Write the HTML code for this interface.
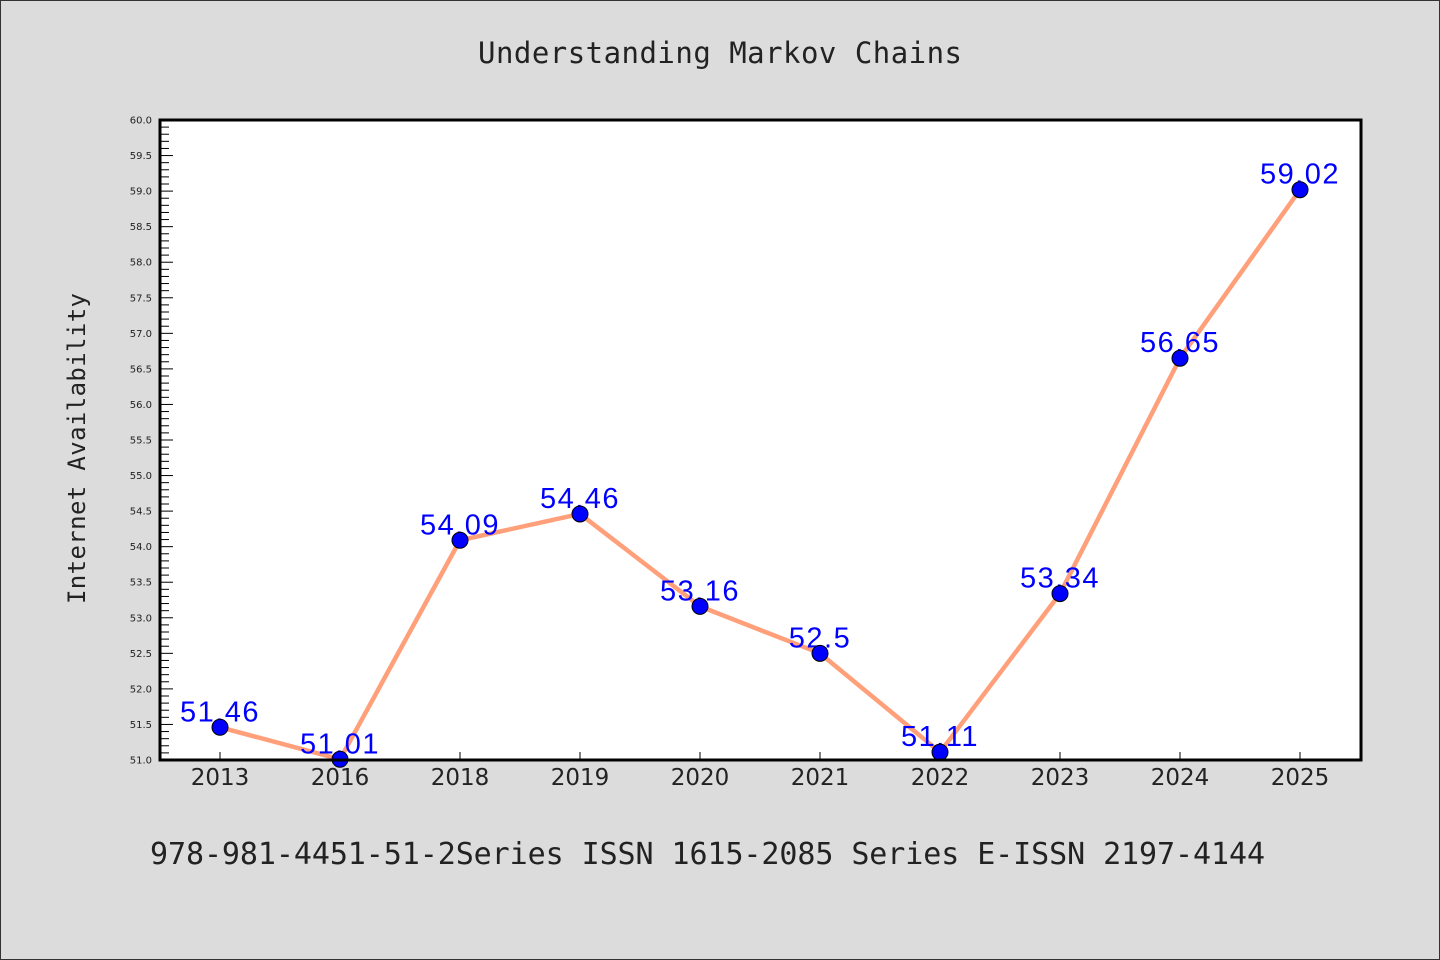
<!DOCTYPE html>
<html><head><meta charset="utf-8"><style>
html,body{margin:0;padding:0;background:#dcdcdc;}
svg{display:block;}
</style></head><body>
<svg width="1440" height="960" xmlns="http://www.w3.org/2000/svg">
<rect x="0.5" y="0.5" width="1439" height="959" fill="#dcdcdc" stroke="#333"/>
<text x="478" y="63" font-family="'DejaVu Sans Mono','Liberation Mono',monospace" font-size="29" fill="#222" textLength="484">Understanding Markov Chains</text>
<text transform="translate(85,604) rotate(-90)" font-family="'DejaVu Sans Mono','Liberation Mono',monospace" font-size="24" fill="#222" textLength="311">Internet Availability</text>
<text x="150" y="864" font-family="'DejaVu Sans Mono','Liberation Mono',monospace" font-size="30" fill="#222" textLength="1115">978-981-4451-51-2Series ISSN 1615-2085 Series E-ISSN 2197-4144</text>
<rect x="160" y="120" width="1201" height="640" fill="#fff"/>
<g id="axes"></g>
<g id="marks"></g>
<rect x="160" y="120" width="1201" height="640" fill="none" stroke="#000" stroke-width="3"/>
</svg>
<script>
const categories = ["2013","2016","2018","2019","2020","2021","2022","2023","2024","2025"];
const values = [51.46,51.01,54.09,54.46,53.16,52.5,51.11,53.34,56.65,59.02];
const valueLabels = ["51.46","51.01","54.09","54.46","53.16","52.5","51.11","53.34","56.65","59.02"];
const yMin = 51.0, yMax = 60.0;
const NS = "http://www.w3.org/2000/svg";
const L = 160, R = 1361, T = 120, B = 760;
function x(i){ return 220 + i * (1300 - 220) / (categories.length - 1); }
function y(v){ return B - (v - yMin) / (yMax - yMin) * (B - T); }
function mk(tag, attrs, parent){ const e = document.createElementNS(NS, tag); for (const k in attrs) e.setAttribute(k, attrs[k]); parent.appendChild(e); return e; }
const axes = document.getElementById('axes');
const marks = document.getElementById('marks');
for (let k = 0; k <= 90; k++) {
  const v = yMin + k * 0.1;
  const major = k % 5 === 0;
  const t = mk('line', {x1: L, x2: L + (major ? 13 : 9), y1: y(v), y2: y(v), stroke: '#000', 'stroke-width': 1}, axes);
  
  
  if (major) {
    const lb = mk('text', {x: 152, y: y(v) + 3.5, 'text-anchor': 'end', 'font-family': "'DejaVu Sans','Liberation Sans',sans-serif", 'font-size': 10, fill: '#222'}, axes);
    lb.textContent = v.toFixed(1);
    
    
  }
}
categories.forEach((c, i) => {
  const t = mk('line', {x1: x(i), x2: x(i), y1: B, y2: B - 8, stroke: '#000', 'stroke-width': 1}, axes);
  
  
  const lb = mk('text', {x: x(i), y: 785, 'text-anchor': 'middle', 'font-family': "'DejaVu Sans','Liberation Sans',sans-serif", 'font-size': 23, fill: '#222'}, axes);
  lb.textContent = c;
  
  
});
const line = mk('polyline', {points: values.map((v, i) => x(i) + ',' + y(v)).join(' '), fill: 'none', stroke: '#ffa07a', 'stroke-width': 4.5, 'stroke-linejoin': 'round'}, marks);


values.forEach((v, i) => {
  const lb = mk('text', {x: x(i), y: y(v) - 6, 'text-anchor': 'middle', 'font-family': "'Liberation Sans',sans-serif", 'font-size': 29, 'letter-spacing': 1.5, fill: '#0000ff'}, marks);
  lb.textContent = valueLabels[i];
  
  
});
values.forEach((v, i) => {
  const p = mk('circle', {cx: x(i), cy: y(v), r: 8, fill: '#0000ff', stroke: '#000', 'stroke-width': 1}, marks);
  
  
});
</script>
</body></html>
